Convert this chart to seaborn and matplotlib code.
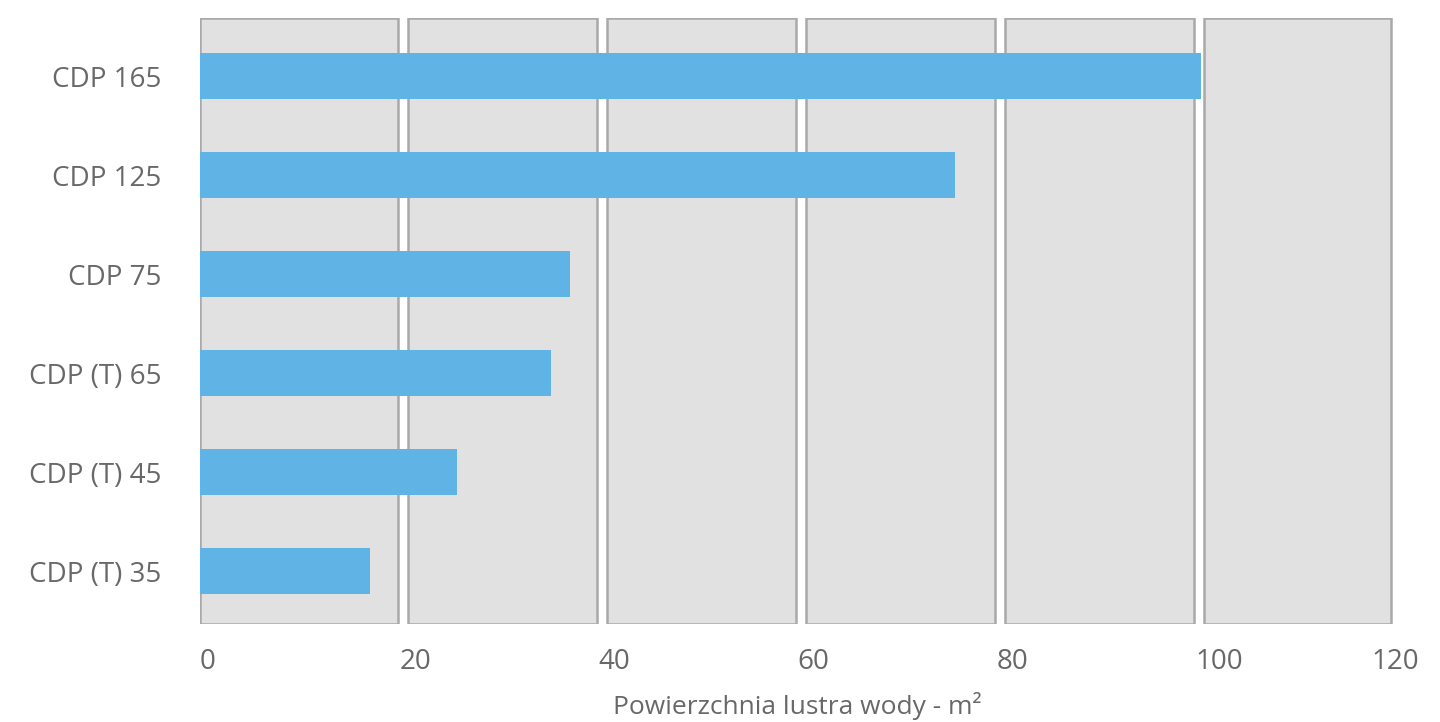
import matplotlib
matplotlib.use("Agg")
import matplotlib.pyplot as plt
import seaborn as sns
import pandas as pd

# Data
models = ["CDP 165", "CDP 125", "CDP 75", "CDP (T) 65", "CDP (T) 45", "CDP (T) 35"]
surface = [100.5, 75.8, 37.2, 35.2, 25.8, 17.1]
ticks = [0, 20, 40, 60, 80, 100, 120]

df = pd.DataFrame({"model": models, "surface": surface})

sns.set_theme(style="white")
plt.rcParams['font.family'] = ['Open Sans', 'DejaVu Sans']

text_grey = "#686868"
bar_blue = "#5fb4e5"
panel_grey = "#e0e1e0"
edge_grey = "#a9a9a9"

fig = plt.figure(figsize=(14.4, 7.22), dpi=100)
ax = fig.add_axes([200 / 1440, 1 - 624 / 722, 1195 / 1440, 606 / 722])

# grey panels between the ticks
for i in range(len(ticks) - 1):
    start = ticks[i] + (0.85 if i > 0 else 0)
    end = ticks[i + 1] - (0.15 if i < len(ticks) - 2 else 0.4)
    ax.axvspan(start, end, ymin=0, ymax=1,
               facecolor=panel_grey, edgecolor=edge_grey, linewidth=1.8, zorder=0)

sns.barplot(data=df, x="surface", y="model", orient="h", color=bar_blue,
            width=0.47, saturation=1, linewidth=0, ax=ax, zorder=2)

ax.set_xlim(0, 120)
ax.set_ylim(5.535, -0.586)
ax.set_xticks(ticks)
ax.set_xticklabels([str(t) for t in ticks], ha="left")
# last label sits a bit left of its tick in the original
ax.get_xticklabels()[-1].set_horizontalalignment("center")
for s in ax.spines.values():
    s.set_visible(False)
ax.tick_params(axis="x", length=0, pad=17, labelsize=20, labelcolor=text_grey)
ax.tick_params(axis="y", length=0, pad=28, labelsize=20, labelcolor=text_grey)
ax.set_ylabel("")
ax.set_xlabel("Powierzchnia lustra wody - m²", fontsize=19, color=text_grey, labelpad=12)

fig.savefig("out.png", dpi=100)
